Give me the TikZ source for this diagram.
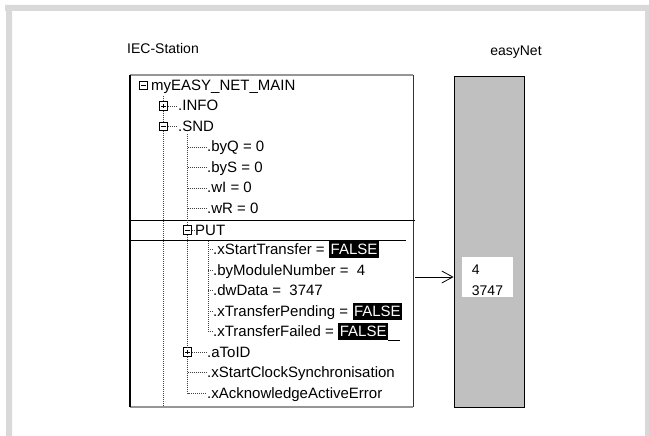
\documentclass[tikz,border=0pt]{standalone}
\usepackage{fontspec}
\setmainfont{Liberation Sans}
\usepackage{tikz}
\usetikzlibrary{arrows.meta, positioning, calc}
\definecolor{framegray}{RGB}{217,217,217}
\definecolor{netgray}{RGB}{192,192,192}
\definecolor{edgegray}{RGB}{150,150,150}
\tikzset{
  caption/.style={font=\fontsize{14}{16}\selectfont, text height=11.5pt, text depth=2.5pt, inner sep=0pt},
  item/.style={caption, font=\fontsize{15}{17}\selectfont, text height=12.5pt, anchor=west},
  falsebox/.style={item, anchor=center, fill=black, text=white, inner xsep=1.5pt, inner ysep=1pt},
  btn/.style={draw, line width=.7pt, minimum size=8.5pt, inner sep=0pt},
  btnminus/.style={btn, path picture={\draw[line width=.7pt] ([xshift=2pt]path picture bounding box.west) -- ([xshift=-2pt]path picture bounding box.east);}},
  btnplus/.style={btn, path picture={\draw[line width=.7pt] ([xshift=2pt]path picture bounding box.west) -- ([xshift=-2pt]path picture bounding box.east)
               ([yshift=2pt]path picture bounding box.south) -- ([yshift=-2pt]path picture bounding box.north);}},
  treeline/.style={line width=.8pt, dash pattern=on .8pt off 1.2pt, black!75},
  sendarrow/.style={-{Straight Barb[length=11pt, width=12pt]}, line width=.8pt},
}

\begin{document}
\begin{tikzpicture}[
  x=1pt, y=-1pt,
  winedge/.style={edgegray, line width=1.5pt},
  netbox/.style={draw, fill=netgray, line width=.8pt, minimum width=70pt, minimum height=331pt, inner sep=0pt},
  valbox/.style={fill=white, font=\fontsize{14}{21}\selectfont, align=left, inner xsep=10pt, inner ysep=2pt, text height=36pt, text depth=0pt},
]
\useasboundingbox (0,0) rectangle (649,436);
\fill[framegray] (5,5) rectangle (649,11) (6,5) rectangle (12,436) (645,5) rectangle (649,436);

\node[caption] (iec-title) at (163,49.5) {IEC-Station};
\node[caption] (net-title) at (516,51.5) {easyNet};

\node[minimum width=283pt, minimum height=332pt, inner sep=0pt] (iec) at (271.5,241) {};
\draw[winedge] (iec.north west) -- (iec.north east);
\draw[winedge] (iec.south west) -- (iec.south east);
\draw[line width=1.6pt] (iec.north west) -- (iec.south west);
\draw[line width=1pt, black!80] (iec.north east) -- (iec.south east);
\draw[line width=1pt] (130,220) -- (415,220) (130,240) -- (406,240);

\node[btnminus] (main-b) at (143.5,85.5) {};
\node[item] (main) at (151,85.5) {myEASY\_NET\_MAIN};
\node[btnplus] (info-b) at (163.5,106) {};
\node[item] (info) at (178,106) {.INFO};
\node[btnminus] (snd-b) at (163.5,126.5) {};
\node[item] (snd) at (178,126.5) {.SND};
\node[item] (byq) at (207,147) {.byQ = 0};
\node[item] (bys) at (207,167.5) {.byS = 0};
\node[item] (wi) at (207,188) {.wI = 0};
\node[item] (wr) at (207,208.5) {.wR = 0};
\node[btnminus] (put-b) at (187.5,230) {};
\node[item] (put) at (195,230) {PUT};
\node[item] (xst) at (213,249.5) {.xStartTransfer =};
\node[falsebox, right=4pt of xst] (xst-v) {FALSE};
\node[item] (bym) at (213,270) {.byModuleNumber =\ \ 4};
\node[item] (dwd) at (213,290.5) {.dwData =\ \ 3747};
\node[item] (xtp) at (213,311) {.xTransferPending =};
\node[falsebox, right=4pt of xtp] (xtp-v) {FALSE};
\node[item] (xtf) at (213,331.5) {.xTransferFailed =};
\node[falsebox, right=4pt of xtf] (xtf-v) {FALSE};
\draw[line width=.8pt] (xtf-v.south east) -- ++(12,0);
\node[btnplus] (atoid-b) at (187.5,352) {};
\node[item] (atoid) at (207,352) {.aToID};
\node[item] (xsc) at (207,372.5) {.xStartClockSynchronisation};
\node[item] (xack) at (207,393) {.xAcknowledgeActiveError};

\coordinate (l1top) at (163.5,96);
\coordinate (l1end) at (163.5,406);
\coordinate (l2top) at (187.5,134);
\coordinate (l3top) at (208,241);
\draw[treeline] (l1top) -- (info-b.north) (info-b.south) -- (snd-b.north) (snd-b.south) -- (l1end);
\draw[treeline] (info-b.east) -- (info.west) (snd-b.east) -- (snd.west);
\draw[treeline] (l2top) -- (put-b.north) (put-b.south) -- (atoid-b.north) (atoid-b.south) -- (xack.west -| l2top) -- (xack.west);
\foreach \n in {byq,bys,wi,wr,xsc}
  \draw[treeline] (\n.west -| l2top) -- (\n.west);
\draw[treeline] (put-b.east) -- (put.west) (atoid-b.east) -- (atoid.west);
\draw[treeline] (l3top) -- (xtf.west -| l3top) -- (xtf.west);
\foreach \n in {xst,bym,dwd,xtp}
  \draw[treeline] (\n.west -| l3top) -- (\n.west);

\node[netbox] (net) at (489,241.5) {};
\node[valbox] (val) at (487.5,277) {4\\3747};
\draw[sendarrow, shorten <=2pt] (val -| iec.east) -- (val -| net.west);
\end{tikzpicture}
\end{document}
